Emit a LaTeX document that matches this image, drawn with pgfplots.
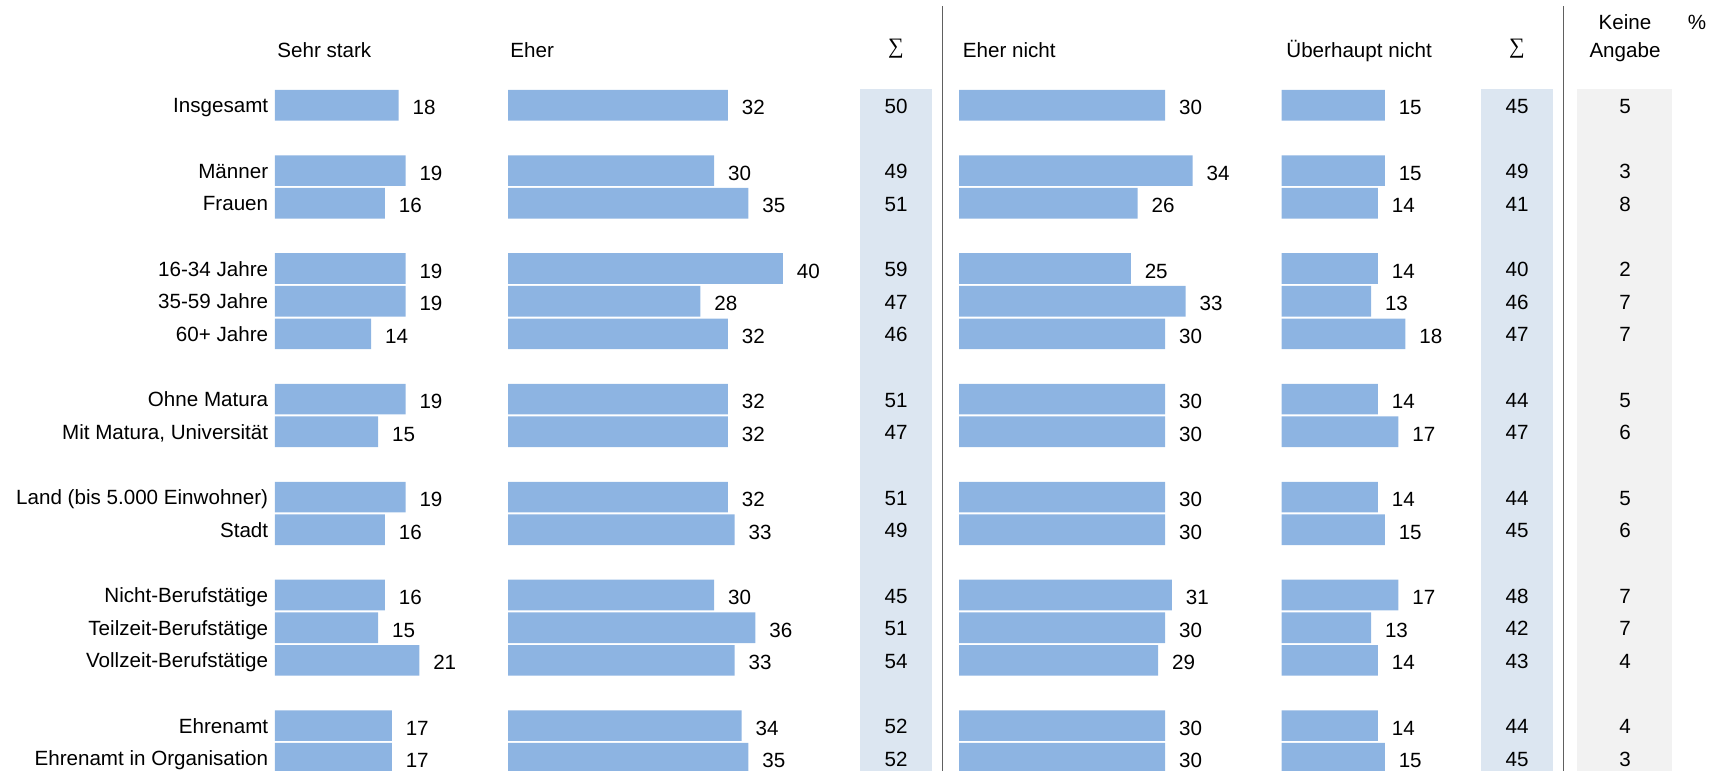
\documentclass[border=0pt]{standalone}
\usepackage{fontspec}
\setmainfont{Liberation Sans}
\newfontfamily\sigmafont{Liberation Serif}
\usepackage{pgfplots}
\usepackage{pgfplotstable}
\pgfplotsset{compat=1.18}
\definecolor{barblue}{HTML}{8DB4E2}
\definecolor{sumbg}{HTML}{DCE6F1}
\definecolor{kabg}{HTML}{F2F2F2}
\definecolor{sepline}{HTML}{606060}

\pgfplotstableread{
y a b s1 c d s2 k
0 18 32 50 30 15 45 5
2 19 30 49 34 15 49 3
3 16 35 51 26 14 41 8
5 19 40 59 25 14 40 2
6 19 28 47 33 13 46 7
7 14 32 46 30 18 47 7
9 19 32 51 30 14 44 5
10 15 32 47 30 17 47 6
12 19 32 51 30 14 44 5
13 16 33 49 30 15 45 6
15 16 30 45 31 17 48 7
16 15 36 51 30 13 42 7
17 21 33 54 29 14 43 4
19 17 34 52 30 14 44 4
20 17 35 52 30 15 45 3
}\data

\pgfplotsset{
  base/.style={scale only axis, height=385.5pt, ymin=-3.225, ymax=20.389,
    y dir=reverse, anchor=south west, clip=false},
  barax/.style={base, width=171.75pt, xmin=0, xmax=50, xbar, bar width=0.94,
    nodes near coords, point meta=explicit symbolic,
    every node near coord/.append style={anchor=base west, inner sep=0pt,
      xshift=6.8pt, yshift=-4.8pt}},
  barplot/.style={fill=barblue, draw=none},
  txtplot/.style={only marks, mark=none, nodes near coords,
    point meta=explicit symbolic,
    every node near coord/.append style={anchor=base, inner sep=0pt, yshift=-4pt}},
}

\begin{document}
\fontsize{10.3}{12}\selectfont
\begin{tikzpicture}
\useasboundingbox (0,0) rectangle (855pt,385.5pt);

% master axis: backgrounds, separators, headers, number columns
\begin{axis}[base, at={(0pt,0pt)}, width=855pt, xmin=0, xmax=1710, hide axis]
  \fill[sumbg] (axis cs:860,-0.5) rectangle (axis cs:931.7,20.389);
  \fill[sumbg] (axis cs:1481,-0.5) rectangle (axis cs:1553,20.389);
  \fill[kabg] (axis cs:1577,-0.5) rectangle (axis cs:1672,20.389);
  \draw[sepline, line width=0.7pt] (axis cs:942.7,-3.04) -- (axis cs:942.7,20.389);
  \draw[sepline, line width=0.7pt] (axis cs:1563.3,-3.04) -- (axis cs:1563.3,20.389);

  \node[anchor=base west, inner sep=0pt] at (axis cs:277,-1.479) {Sehr stark};
  \node[anchor=base west, inner sep=0pt] at (axis cs:510,-1.479) {Eher};
  \node[anchor=center, inner sep=0pt, font=\sigmafont\fontsize{11}{12}\selectfont] at (axis cs:896,-1.724) {∑};
  \node[anchor=base west, inner sep=0pt] at (axis cs:962.5,-1.479) {Eher nicht};
  \node[anchor=base west, inner sep=0pt] at (axis cs:1286,-1.479) {Überhaupt nicht};
  \node[anchor=center, inner sep=0pt, font=\sigmafont\fontsize{11}{12}\selectfont] at (axis cs:1517,-1.724) {∑};
  \node[anchor=base, inner sep=0pt] at (axis cs:1625,-2.328) {Keine};
  \node[anchor=base, inner sep=0pt] at (axis cs:1625,-1.479) {Angabe};
  \node[anchor=base, inner sep=0pt] at (axis cs:1697,-2.328) {\%};

  \addplot[txtplot] table[x expr=896, y=y, meta=s1] {\data};
  \addplot[txtplot] table[x expr=1517, y=y, meta=s2] {\data};
  \addplot[txtplot] table[x expr=1625, y=y, meta=k] {\data};
\end{axis}

% Sehr stark (with row labels)
\begin{axis}[barax, at={(137.5pt,0pt)},
  axis line style={draw=none}, tick style={draw=none}, xtick=\empty,
  ytick={0,2,3,5,6,7,9,10,12,13,15,16,17,19,20},
  yticklabels={Insgesamt, Männer, Frauen, 16-34 Jahre, 35-59 Jahre, 60+ Jahre,
    Ohne Matura, {Mit Matura, Universität}, Land (bis 5.000 Einwohner), Stadt,
    Nicht-Berufstätige, Teilzeit-Berufstätige, Vollzeit-Berufstätige,
    Ehrenamt, Ehrenamt in Organisation},
  yticklabel style={anchor=base east, inner sep=0pt, xshift=1.05pt, yshift=-3.8pt}]
  \addplot[barplot] table[x=a, y=y, meta=a] {\data};
\end{axis}

% Eher
\begin{axis}[barax, at={(254pt,0pt)}, hide axis]
  \addplot[barplot] table[x=b, y=y, meta=b] {\data};
\end{axis}

% Eher nicht
\begin{axis}[barax, at={(479.5pt,0pt)}, hide axis]
  \addplot[barplot] table[x=c, y=y, meta=c] {\data};
\end{axis}

% Ueberhaupt nicht
\begin{axis}[barax, at={(640.85pt,0pt)}, hide axis]
  \addplot[barplot] table[x=d, y=y, meta=d] {\data};
\end{axis}
\end{tikzpicture}
\end{document}
